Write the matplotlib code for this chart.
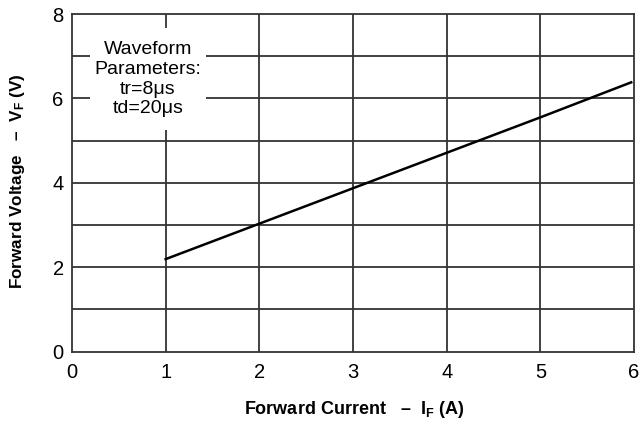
import matplotlib
matplotlib.use("Agg")
from matplotlib import pyplot as plt
from matplotlib.patches import Rectangle

plt.rcParams['font.family'] = ['Liberation Sans', 'DejaVu Sans']
plt.rcParams['mathtext.fontset'] = 'custom'
plt.rcParams['mathtext.rm'] = 'Liberation Sans'
plt.rcParams['mathtext.bf'] = 'Liberation Sans:bold'

# data
current = [1.0, 2.0, 3.0, 4.0, 5.0, 5.97]
voltage = [2.19, 3.03, 3.87, 4.71, 5.55, 6.38]

xticks = [0, 1, 2, 3, 4, 5, 6]
yticks = [0, 2, 4, 6, 8]
ygrid = [1, 2, 3, 4, 5, 6, 7]

fig = plt.figure(figsize=(6.42, 4.25), dpi=100)
ax = fig.add_axes([72/642, 1-351.5/425, 562/642, 337.5/425])

gc = '#333333'
for x in xticks[1:-1]:
    ax.axvline(x, color=gc, lw=1.3, zorder=1)
for y in ygrid:
    ax.axhline(y, color=gc, lw=1.3, zorder=1)

ax.plot(current, voltage, color='black', lw=1.8, zorder=3)

ax.set_xlim(0, 6)
ax.set_ylim(0, 8)
ax.set_xticks(xticks)
ax.set_yticks(yticks)
ax.tick_params(axis='x', length=0, labelsize=14.5, pad=8)
ax.tick_params(axis='y', length=0, labelsize=14.5, pad=6)
for s in ax.spines.values():
    s.set_color(gc)
    s.set_linewidth(1.3)

# white box behind the note, hides the grid
ax.add_patch(Rectangle((0.19, 5.24), 1.24, 2.44, fc='white', ec='none', zorder=2))
ax.text(0.81, 6.45, "Waveform\nParameters:\ntr=8μs\ntd=20μs", ha='center', va='center',
        fontsize=14, linespacing=1.2, zorder=4)

fig.text(354/642, 1-410/425, "Forward Current   –  $\\mathbf{I_F}$ (A)",
         ha='center', va='center', fontsize=13, fontweight='bold')
fig.text(18/642, 1-181/425, "Forward Voltage   –  $\\mathbf{V_F}$ (V)",
         ha='center', va='center', fontsize=12.3, fontweight='bold', rotation=90)

plt.savefig("out.png", dpi=100)
